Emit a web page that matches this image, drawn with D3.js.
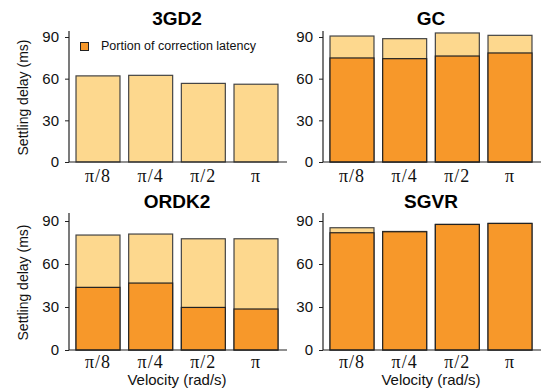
<!DOCTYPE html>
<html>
<head>
<meta charset="utf-8">
<script src="https://cdn.jsdelivr.net/npm/d3@7"></script>
<style>
  body { margin: 0; background: #fff; }
  svg { display: block; }
</style>
</head>
<body>
<svg width="541" height="390"></svg>
<script>
// velocity categories
const velocities = ['π/8', 'π/4', 'π/2', 'π'];
const yTicks = [0, 30, 60, 90];

// settling delay (total bar) and correction latency portion, ms
const gd2Total = [62, 62.4, 56.6, 56];
const gd2Corr = [0, 0, 0, 0];
const gcTotal = [90.7, 88.8, 92.9, 91.2];
const gcCorr = [74.9, 74.4, 76.3, 78.5];
const ordkTotal = [80.2, 80.9, 77.6, 77.6];
const ordkCorr = [43.7, 46.7, 29.7, 28.6];
const sgvrTotal = [85.3, 82.7, 87.6, 88.3];
const sgvrCorr = [81.8, 82.5, 87.6, 88.3];

const panels = [
  { title: '3GD2', total: gd2Total, corr: gd2Corr, col: 0, row: 0 },
  { title: 'GC', total: gcTotal, corr: gcCorr, col: 1, row: 0 },
  { title: 'ORDK2', total: ordkTotal, corr: ordkCorr, col: 0, row: 1 },
  { title: 'SGVR', total: sgvrTotal, corr: sgvrCorr, col: 1, row: 1 }
];

const dark = '#f7982a';
const light = '#fdd88e';
const sans = 'Liberation Sans, Arial, sans-serif';

const svg = d3.select('svg');

// per-row vertical layout
const rows = [
  { y0: 162, y90: 37, top: 31, titleY: 25, tickY: 182 },
  { y0: 350, y90: 221, top: 213, titleY: 208, tickY: 368 }
];
const colX = [69, 323];
const colW = 218;

panels.forEach(p => {
  const r = rows[p.row];
  const x0 = colX[p.col];
  const g = svg.append('g');

  const y = d3.scaleLinear().domain([0, 90]).range([r.y0, r.y90]);
  const x = d3.scaleBand()
    .domain(velocities)
    .range([x0 + 2.8, x0 + colW - 4.8])
    .paddingInner(0.165)
    .paddingOuter(0.08);

  // bars: full settling delay in light, correction portion in dark
  g.selectAll('rect.tot').data(p.total)
    .enter().append('rect')
      .attr('x', (d, i) => x(velocities[i]))
      .attr('y', d => y(d))
      .attr('width', x.bandwidth())
      .attr('height', d => y(0) - y(d))
      .attr('fill', light)
      .attr('stroke', '#444')
      .attr('stroke-width', 1.2);

  g.selectAll('rect.cor').data(p.corr.filter(d => d > 0).length ? p.corr : [])
    .enter().append('rect')
      .attr('x', (d, i) => x(velocities[i]))
      .attr('y', d => y(d))
      .attr('width', x.bandwidth())
      .attr('height', d => y(0) - y(d))
      .attr('fill', dark)
      .attr('stroke', '#222')
      .attr('stroke-width', 1.2);

  // y axis
  const ya = g.append('g')
    .attr('transform', `translate(${x0},0)`)
    .call(d3.axisLeft(y).tickValues(yTicks).tickSize(4).tickPadding(6));
  ya.select('.domain').remove();
  ya.selectAll('line').attr('stroke', '#222');
  ya.selectAll('text')
    .attr('font-family', sans)
    .attr('font-size', 15)
    .attr('fill', '#111');
  g.append('line')
    .attr('x1', x0).attr('x2', x0)
    .attr('y1', r.top).attr('y2', r.y0)
    .attr('stroke', '#222').attr('stroke-width', 1.2);

  // x axis
  const xa = g.append('g')
    .attr('transform', `translate(0,${r.y0})`)
    .call(d3.axisBottom(x).tickSize(0).tickPadding(0));
  xa.select('.domain').remove();
  xa.selectAll('text')
    .attr('y', r.tickY - r.y0)
    .attr('dy', 0)
    .attr('font-family', 'Liberation Serif, Times New Roman, serif')
    .attr('font-size', 18)
    .attr('letter-spacing', 1)
    .attr('fill', '#111');
  g.append('line')
    .attr('x1', x0).attr('x2', x0 + colW)
    .attr('y1', r.y0).attr('y2', r.y0)
    .attr('stroke', '#222').attr('stroke-width', 1.2);

  // title
  g.append('text')
    .attr('x', x0 + 108)
    .attr('y', r.titleY)
    .attr('text-anchor', 'middle')
    .attr('font-family', sans)
    .attr('font-weight', 'bold')
    .attr('font-size', 19)
    .text(p.title);

  if (p.col === 0) {
    g.append('text')
      .attr('transform', `translate(28,${(r.top + r.y0) / 2 + 1}) rotate(-90)`)
      .attr('text-anchor', 'middle')
      .attr('font-family', sans)
      .attr('font-size', 14)
      .attr('fill', '#111')
      .text('Settling delay (ms)');
  }
  if (p.row === 1) {
    g.append('text')
      .attr('x', x0 + 108)
      .attr('y', 385)
      .attr('text-anchor', 'middle')
      .attr('font-family', sans)
      .attr('font-size', 15)
      .attr('fill', '#111')
      .text('Velocity (rad/s)');
  }
});

// legend
svg.append('rect')
  .attr('x', 80.5).attr('y', 42.5)
  .attr('width', 8).attr('height', 8)
  .attr('fill', dark).attr('stroke', '#222');
svg.append('text')
  .attr('x', 101).attr('y', 50)
  .attr('font-family', sans)
  .attr('font-size', 12.5)
  .attr('fill', '#111')
  .text('Portion of correction latency');
</script>
</body>
</html>
